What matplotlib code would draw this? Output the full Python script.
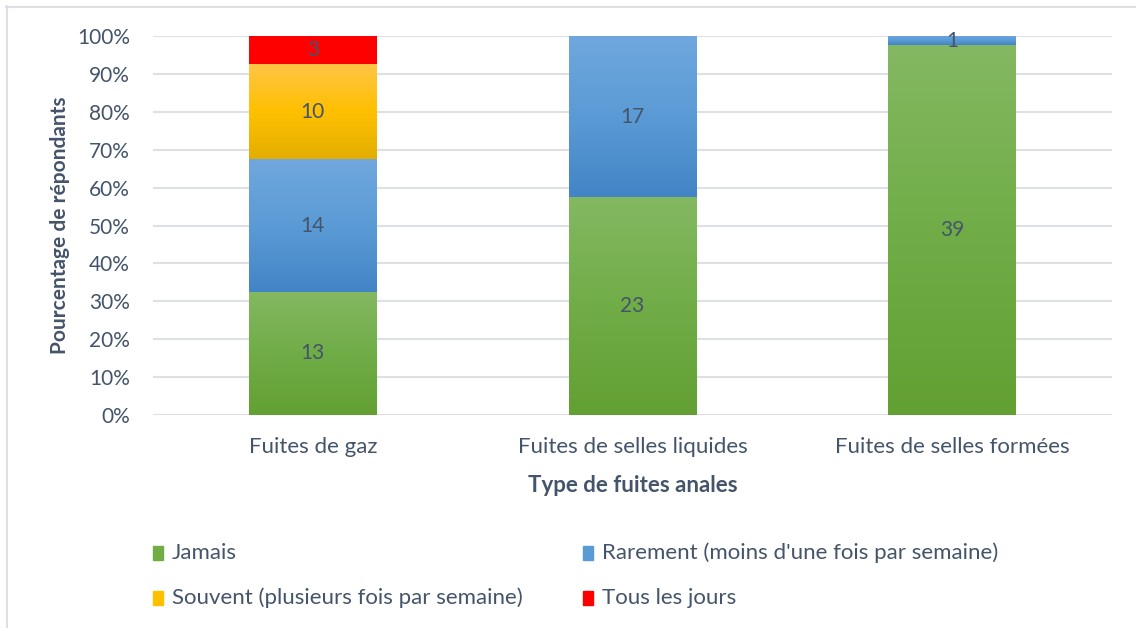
import numpy as np
import matplotlib.pyplot as plt
from matplotlib.patches import Rectangle
from matplotlib.lines import Line2D
from matplotlib.colors import LinearSegmentedColormap
from matplotlib.ticker import PercentFormatter

# --- données ---
categories = ['Fuites de gaz', 'Fuites de selles liquides', 'Fuites de selles formées']
series = ['Jamais', 'Rarement (moins d\'une fois par semaine)',
          'Souvent (plusieurs fois par semaine)', 'Tous les jours']
jamais = [13, 23, 39]
rarement = [14, 17, 1]
souvent = [10, 0, 0]
tous_jours = [3, 0, 0]

# dégradés (haut, milieu, bas)
grad = {
    'Jamais': ['#84b862', '#70ad47', '#62a033'],
    series[1]: ['#70a7de', '#5b9bd5', '#4284c6'],
    series[2]: ['#ffc546', '#ffc000', '#e3ae00'],
    'Tous les jours': ['#ff0000', '#ff0000', '#ff0000'],
}
txt_col = '#44546a'
plt.rcParams['font.family'] = ['Lato', 'DejaVu Sans']

valeurs = np.array([jamais, rarement, souvent, tous_jours], dtype=float)
totaux = valeurs.sum(axis=0)
pct = valeurs / totaux * 100

fig = plt.figure(figsize=(11.36, 6.28), dpi=100)
ax = fig.add_axes([153 / 1136, 1 - 415 / 628, 959 / 1136, 379 / 628])

x = np.arange(len(categories))
bas = np.zeros(len(categories))
grad_img = np.linspace(0, 1, 256).reshape(-1, 1)
for i, nom in enumerate(series):
    bars = ax.bar(x, pct[i], 0.4, bottom=bas, color=grad[nom][1], zorder=2)
    cmap = LinearSegmentedColormap.from_list(nom, grad[nom][::-1])
    for j, b in enumerate(bars):
        if valeurs[i, j] == 0:
            continue
        bx, by = b.get_x(), b.get_y()
        bw, bh = b.get_width(), b.get_height()
        im = ax.imshow(grad_img, cmap=cmap, aspect='auto', origin='lower',
                       extent=[bx, bx + bw, by, by + bh], zorder=3)
        im.set_clip_path(b)
        ax.text(bx + bw / 2, by + bh / 2, f'{int(valeurs[i, j])}',
                ha='center', va='center', fontsize=15, color=txt_col, zorder=4)
    bas += pct[i]

ax.set_xlim(-0.5, 2.5)
ax.set_ylim(0, 100)
ax.set_yticks(np.arange(0, 101, 10))
ax.yaxis.set_major_formatter(PercentFormatter(decimals=0))
ax.set_xticks(x)
ax.set_xticklabels(categories)
ax.tick_params(axis='y', length=0, labelsize=15, colors=txt_col, pad=16.5)
ax.tick_params(axis='x', length=0, labelsize=16, colors=txt_col, pad=16)
ax.grid(axis='y', color='#dde1e6', linewidth=1.5, zorder=0)
for s in ax.spines.values():
    s.set_visible(False)
ax.set_ylabel('Pourcentage de répondants', fontsize=15, fontweight='bold',
              color=txt_col, labelpad=5)
ax.set_xlabel('Type de fuites anales', fontsize=16, fontweight='bold',
              color=txt_col, labelpad=13)

# légende manuelle
pos = [(153, 553), (583, 553), (153, 598), (583, 598)]
for (px, py), nom in zip(pos, series):
    fig.patches.append(Rectangle((px / 1136, 1 - (py + 7) / 628), 10 / 1136, 14 / 628,
                                 transform=fig.transFigure, color=grad[nom][1]))
    fig.text((px + 19) / 1136, 1 - py / 628, nom, fontsize=16, color=txt_col,
             va='center', ha='left')

# cadre du graphique
fig.add_artist(Line2D([6 / 1136, 1], [1 - 6.5 / 628] * 2, color='#dde1e6', lw=1.5))
fig.add_artist(Line2D([6.5 / 1136] * 2, [0, 1 - 6 / 628], color='#dde1e6', lw=1.5))

fig.savefig('out.png', dpi=100)
